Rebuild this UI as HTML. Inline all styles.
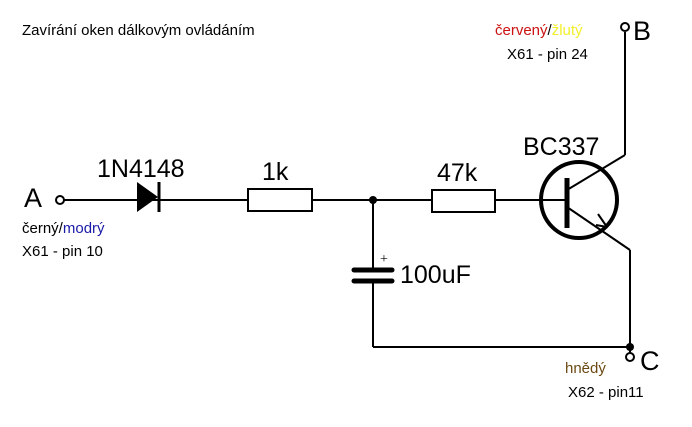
<!DOCTYPE html>
<html><head><meta charset="utf-8"><style>body{margin:0;background:#fff}svg{display:block}</style></head><body>
<svg width="692" height="427" xmlns="http://www.w3.org/2000/svg" font-family="Liberation Sans, Arial, sans-serif">
<rect width="692" height="427" fill="#fff"/>
<text x="22" y="35" font-size="15">Zavírání oken dálkovým ovládáním</text>
<g stroke="#000" stroke-width="2" fill="none">
<circle cx="60" cy="200" r="4"/>
<line x1="64" y1="200" x2="248" y2="200"/>
<rect x="248" y="189" width="64" height="22"/>
<line x1="312" y1="200" x2="432" y2="200"/>
<rect x="432" y="190" width="63" height="22"/>
<line x1="495" y1="200" x2="567" y2="200"/>
<circle cx="579" cy="200" r="38" stroke-width="4"/>
<line x1="567" y1="190" x2="625" y2="155"/>
<line x1="625" y1="155" x2="625" y2="32"/>
<circle cx="625" cy="27" r="4"/>
<line x1="567" y1="207" x2="630" y2="250"/>
<line x1="630" y1="250" x2="630" y2="353"/>
<circle cx="630" cy="357" r="4"/>
<line x1="373" y1="200" x2="373" y2="270"/>
<line x1="373" y1="281" x2="373" y2="347"/>
<line x1="373" y1="347" x2="630" y2="347"/>
<line x1="607" y1="227" x2="596" y2="225"/>
<line x1="607" y1="227" x2="598" y2="214"/>
</g>
<line x1="567" y1="178" x2="567" y2="228" stroke="#000" stroke-width="5"/>
<line x1="354" y1="270" x2="392" y2="270" stroke="#000" stroke-width="5" stroke-linecap="round"/>
<line x1="354" y1="281" x2="392" y2="281" stroke="#000" stroke-width="5" stroke-linecap="round"/>
<polygon points="137,182 137,212 158,197" fill="#000"/>
<line x1="159" y1="182" x2="159" y2="212" stroke="#000" stroke-width="3"/>
<circle cx="373" cy="200" r="4" fill="#000"/>
<circle cx="630" cy="347" r="4" fill="#000"/>
<text x="380" y="263" font-size="14" font-family="Liberation Serif, serif">+</text>
<text x="97" y="177" font-size="25">1N4148</text>
<text x="262" y="180" font-size="25">1k</text>
<text x="437" y="181" font-size="25">47k</text>
<text x="523" y="155" font-size="25">BC337</text>
<text x="400" y="283" font-size="25">100uF</text>
<text x="24" y="207" font-size="27">A</text>
<text x="633" y="40" font-size="27">B</text>
<text x="640" y="370" font-size="27">C</text>
<text x="22" y="233" font-size="15">černý/<tspan fill="#1a1aa8">modrý</tspan></text>
<text x="22" y="256" font-size="15">X61 - pin 10</text>
<text x="495" y="35" font-size="15" fill="#cc1111">červený<tspan fill="#000">/</tspan><tspan fill="#f2ef2a">žlutý</tspan></text>
<text x="507" y="59" font-size="15">X61 - pin 24</text>
<text x="565" y="373" font-size="15" fill="#6b4a10">hnědý</text>
<text x="568" y="397" font-size="15">X62 - pin11</text>
</svg>
</body></html>
